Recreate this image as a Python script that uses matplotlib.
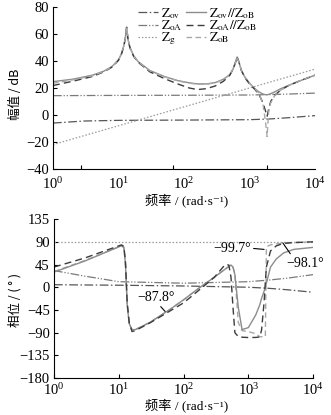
import matplotlib
matplotlib.use('Agg')
import matplotlib.pyplot as plt
import numpy as np

# magnitude data (rad/s, dB)
w_mag = [1, 2, 4, 6, 8, 10, 11, 12, 12.7, 13.3, 14, 15, 17, 20, 30, 50, 80, 120,
         160, 220, 300, 400, 500, 560, 610, 645, 690, 750, 850, 1000, 1200, 1400,
         1600, 1750, 1850, 1950, 2100, 2400, 3000, 4000, 6000, 10000]
mag_ov_ob = [24.7, 26.5, 29.5, 32.5, 36, 41, 45, 51, 57, 65, 56, 50, 44, 39.5, 33,
             28.5, 25.5, 23.8, 23, 23, 24, 26.5, 30, 34, 39, 43, 39, 33, 28, 23.5,
             19.5, 17, 15.5, 15, 15, 15.2, 15.8, 17, 19.5, 22, 25.5, 29.5]
mag_oa_ob = [21.8, 25, 28.5, 32, 35.5, 40.5, 44.5, 50.5, 56.5, 65, 55.5, 49.5, 43.5,
             39, 32, 27, 23, 20, 18.8, 19.5, 21.5, 25, 29.5, 34, 39, 43, 39, 33,
             27.5, 23, 19, 15, 9, 3, -1, 4, 10, 14.5, 18.5, 22, 25.5, 29.5]
mag_ob = [23.5, 26, 29, 32.3, 35.8, 40.8, 44.8, 50.8, 56.8, 65, 55.8, 49.8, 43.8,
          39.3, 32.8, 28.3, 25.3, 23.6, 22.8, 22.8, 23.8, 26.3, 29.8, 34, 39, 43,
          39, 33, 28, 23.5, 19.5, 16, 8, -5, -16, 2, 9, 14, 18.5, 22, 25.5, 29.5]

w_flat = [1, 3, 10, 100, 1000, 2000, 4000, 10000]
mag_ov = [-6, -4.5, -4, -3.8, -3.5, -3, -2, -0.5]
mag_oa = [14.3, 14.4, 14.5, 14.6, 14.8, 15.1, 15.5, 16.2]
w_g = [1, 10000]
mag_g = [-22, 34]

# phase data (rad/s, deg)
w_ph = [1, 3, 10, 11, 12, 12.7, 13.5, 14.5, 16, 18, 30, 60, 100, 180, 300, 440,
        500, 540, 580, 620, 700, 800, 1000, 1300, 1500, 1600, 1750, 1830, 1900,
        2200, 2700, 3500, 5000, 10000]
ph_ov_ob = [30, 52, 80, 82, 79, 45, -35, -72, -84, -84, -70, -45, -25, 0, 20, 36,
            41, 44, 40, 25, -40, -84, -80, -55, -35, -22, -8, 0, 8, 40, 56, 68,
            75, 79]
ph_oa_ob = [40, 58, 82, 84, 81, 50, -30, -70, -87.8, -86, -71, -48, -31, -4, 20,
            45, 44, 20, -40, -90, -98, -99, -99.7, -99.5, -98.5, -85, -30, 10,
            40, 72, 82, 87, 88.5, 90]
ph_ob = [31, 53, 80, 82, 79, 45, -35, -72, -84, -84, -70, -45, -25, 0, 20, 36, 41,
         44, 40, 25, -70, -86, -88, -92, -98, -98.1, -98.1, -98, 80, 84, 86, 87,
         88.5, 90]

ph_ov = [5, 4.5, 4, 2.5, 0, -2, -5, -10]
ph_oa = [33, 22, 11, 8, 11, 14, 18, 25]
ph_g = [90, 90]

plt.rcParams['font.family'] = ['Liberation Serif', 'Noto Sans CJK SC', 'DejaVu Serif']
plt.rcParams['mathtext.fontset'] = 'stix'
plt.rcParams['font.size'] = 10.5
plt.rcParams['axes.unicode_minus'] = True

c_dd = '#555555'
c_ddd = '#7a7a7a'
c_dot = '#9a9a9a'
c_sol = '#8c8c8c'
c_dash = '#3c3c3c'
c_lb = '#a8a8a8'

st = dict(
    ov=dict(color=c_dd, lw=0.9, dashes=(7, 2, 1.2, 2)),
    oa=dict(color=c_ddd, lw=0.9, dashes=(7, 1.5, 1, 1.5, 1, 1.5)),
    g=dict(color=c_dot, lw=0.9, dashes=(1.2, 1.5)),
    ovob=dict(color=c_sol, lw=1.0),
    oaob=dict(color=c_dash, lw=1.0, dashes=(5, 3)),
    ob=dict(color=c_lb, lw=1.0, dashes=(4, 2.5)),
)

fig = plt.figure(figsize=(3.31, 4.15), dpi=100)
ax1 = fig.add_axes([0.160, 0.593, 0.792, 0.390])
ax2 = fig.add_axes([0.163, 0.089, 0.783, 0.383])

ax1.semilogx(w_flat, mag_ov, label=r'$\mathrm{Z_{ov}}$', **st['ov'])
ax1.semilogx(w_flat, mag_oa, label=r'$\mathrm{Z_{oA}}$', **st['oa'])
ax1.semilogx(w_g, mag_g, label=r'$\mathrm{Z_{g}}$', **st['g'])
ax1.semilogx(w_mag, mag_ov_ob, label=r'$\mathrm{Z_{ov}//Z_{oB}}$', **st['ovob'])
ax1.semilogx(w_mag, mag_oa_ob, label=r'$\mathrm{Z_{oA}//Z_{oB}}$', **st['oaob'])
ax1.semilogx(w_mag, mag_ob, label=r'$\mathrm{Z_{oB}}$', **st['ob'])

ax2.semilogx(w_flat, ph_ov, **st['ov'])
ax2.semilogx(w_flat, ph_oa, **st['oa'])
ax2.semilogx(w_g, ph_g, **st['g'])
ax2.semilogx(w_ph, ph_ob, **st['ob'])
ax2.semilogx(w_ph, ph_ov_ob, **st['ovob'])
ax2.semilogx(w_ph, ph_oa_ob, **st['oaob'])

for ax in (ax1, ax2):
    ax.set_xlim(1, 1e4)
    ax.spines['top'].set_visible(False)
    ax.spines['right'].set_visible(False)
    ax.tick_params(direction='in', length=3, width=0.8, pad=3)
    ax.tick_params(which='minor', length=0)
    ax.set_xticks([1, 10, 100, 1000, 10000])
    ax.set_xlabel('频率 / (rad·s⁻¹)', fontsize=9.5)

# odd tick marks on the upper frequency axis
ax1.tick_params(axis='x', which='major', length=0, pad=5)
ax1.set_xticks([2.7, 68, 1820, 10000], minor=True)
ax1.tick_params(axis='x', which='minor', direction='in', length=3, width=0.8)

ax1.set_ylim(-40, 80)
ax1.set_yticks(np.arange(-40, 81, 20))
ax1.set_ylabel('幅值 / dB', family=['Noto Sans CJK SC'], fontsize=9)

ax2.set_ylim(-180, 135)
ax2.set_yticks(np.arange(-180, 136, 45))
ax2.set_ylabel('相位 / ( ° )', family=['Noto Sans CJK SC'], fontsize=9)

ax1.xaxis.set_label_coords(0.51, -0.15)
ax2.xaxis.set_label_coords(0.51, -0.13)
ax1.yaxis.set_label_coords(-0.12, 0.46)
ax2.yaxis.set_label_coords(-0.125, 0.49)

leg = ax1.legend(ncol=2, loc='upper left', bbox_to_anchor=(0.295, 1.055),
                 frameon=False, handlelength=1.5, handletextpad=0.2,
                 labelspacing=-0.2, columnspacing=0.3, borderpad=0.1,
                 fontsize=9.5)

arrow = dict(arrowstyle='-', color='black', lw=0.8, shrinkA=0, shrinkB=0)
ax2.annotate('−87.8°', xy=(52, -48), xytext=(38, -20), fontsize=10,
             ha='center', va='center',
             arrowprops=dict(arrow, relpos=(0.55, 0)))
ax2.annotate('−99.7°', xy=(1750, 75), xytext=(560, 76), fontsize=10,
             ha='center', va='center',
             arrowprops=dict(arrow, relpos=(1, 0.55)))
ax2.annotate('−98.1°', xy=(3400, 88), xytext=(7600, 48), fontsize=10,
             ha='center', va='center', annotation_clip=False,
             arrowprops=dict(arrow, relpos=(0.15, 1)))

fig.savefig('out.png', dpi=100)
